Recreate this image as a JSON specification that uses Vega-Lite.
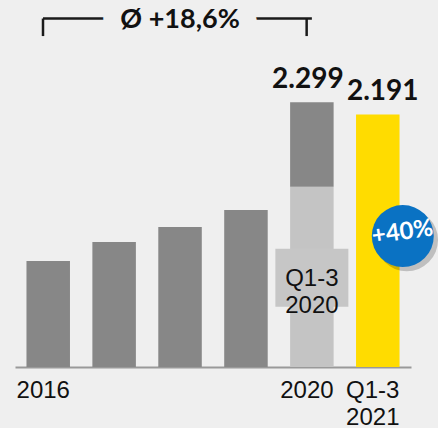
{
  "$schema": "https://vega.github.io/schema/vega-lite/v6.json",
  "width": 396,
  "height": 367,
  "autosize": {"type": "none"},
  "padding": {"left": 15, "top": 0, "right": 27, "bottom": 61},
  "background": "#efefef",
  "config": {"view": {"stroke": null}, "font": "Lato"},
  "datasets": {
    "bars": [
      {"cat": "2016", "part": "year", "value": 920},
      {"cat": "2017", "part": "year", "value": 1085},
      {"cat": "2018", "part": "year", "value": 1215},
      {"cat": "2019", "part": "year", "value": 1363},
      {"cat": "2020", "part": "Q1-3", "value": 1565},
      {"cat": "2020", "part": "Q4", "value": 734},
      {"cat": "Q1-3 2021", "part": "Q1-3 2021", "value": 2191}
    ],
    "bracket": [{"cat": "2016"}, {"cat": "2020"}]
  },
  "layer": [
    {
      "data": {"name": "bars"},
      "mark": {"type": "bar"},
      "encoding": {
        "x": {
          "field": "cat",
          "type": "nominal",
          "sort": null,
          "scale": {"domain": ["2016", "2017", "2018", "2019", "2020", "Q1-3 2021"], "paddingInner": 0.34, "paddingOuter": 0.174},
          "axis": {
            "title": null,
            "domainColor": "#999999",
            "domainWidth": 2,
            "ticks": false,
            "labelAngle": 0,
            "labelFont": "Liberation Sans",
            "labelFontSize": 24,
            "labelColor": "#111111",
            "labelBaseline": "top",
            "labelPadding": 11,
            "labelLineHeight": 27,
            "labelOffset": -5,
            "labelOverlap": false,
            "labelBound": false,
            "labelExpr": "datum.value == 'Q1-3 2021' ? ['Q1-3', '2021'] : (datum.value == '2016' || datum.value == '2020' ? datum.value : '')"
          }
        },
        "y": {"field": "value", "type": "quantitative", "stack": "zero", "scale": {"domain": [0, 3186], "nice": false}, "axis": null},
        "color": {
          "field": "part",
          "type": "nominal",
          "scale": {"domain": ["year", "Q1-3", "Q4", "Q1-3 2021"], "range": ["#878787", "#c4c4c4", "#878787", "#ffdc00"]},
          "legend": null
        },
        "order": {"field": "part", "sort": "ascending"}
      }
    },
    {
      "data": {"values": [{"cat": "2020", "label": "2.299", "total": 2299}]},
      "mark": {"type": "text", "font": "Lato", "fontWeight": "bold", "fontSize": 28, "color": "#111111", "baseline": "alphabetic", "dy": -14, "dx": -4},
      "encoding": {
        "x": {"field": "cat", "type": "nominal"},
        "y": {"field": "total", "type": "quantitative"},
        "text": {"field": "label"}
      }
    },
    {
      "data": {"values": [{"cat": "Q1-3 2021", "label": "2.191", "total": 2191}]},
      "mark": {"type": "text", "font": "Lato", "fontWeight": "bold", "fontSize": 28, "color": "#111111", "baseline": "alphabetic", "dy": -15, "dx": 5},
      "encoding": {
        "x": {"field": "cat", "type": "nominal"},
        "y": {"field": "total", "type": "quantitative"},
        "text": {"field": "label"}
      }
    },
    {
      "data": {"name": "bracket"},
      "mark": {"type": "rule", "color": "#1a1a1a", "strokeWidth": 2.5},
      "encoding": {
        "x": {"field": "cat", "type": "nominal", "bandPosition": 0.38},
        "y": {"datum": 3025},
        "y2": {"datum": 2873}
      }
    },
    {
      "data": {"values": [{}]},
      "mark": {"type": "rule", "color": "#1a1a1a", "strokeWidth": 2.5},
      "encoding": {
        "x": {"datum": "2016", "bandPosition": 0.38},
        "x2": {"datum": "2020"},
        "y": {"datum": 3025}
      }
    },
    {
      "data": {"values": [{}]},
      "mark": {"type": "text", "font": "Lato", "fontWeight": "bold", "fontSize": 27, "fill": "#efefef", "stroke": "#efefef", "strokeWidth": 36, "strokeJoin": "round", "baseline": "alphabetic", "dx": 0},
      "encoding": {
        "x": {"datum": "2018"},
        "y": {"datum": 2943},
        "text": {"value": "Ø +18,6%"}
      }
    },
    {
      "data": {"values": [{}]},
      "mark": {"type": "text", "font": "Lato", "fontWeight": "bold", "fontSize": 27, "color": "#111111", "baseline": "alphabetic", "dx": 0},
      "encoding": {
        "x": {"datum": "2018"},
        "y": {"datum": 2943},
        "text": {"value": "Ø +18,6%"}
      }
    },
    {
      "data": {"values": [{}]},
      "mark": {"type": "point", "shape": "M-1,-0.795H1V0.795H-1Z", "size": 5329, "filled": true, "color": "#c6c6c6", "opacity": 1},
      "encoding": {
        "x": {"datum": "2020"},
        "y": {"datum": 774}
      }
    },
    {
      "data": {"values": [{}]},
      "mark": {"type": "text", "font": "Liberation Sans", "fontSize": 24, "color": "#111111", "baseline": "middle", "lineHeight": 27, "dy": 1},
      "encoding": {
        "x": {"datum": "2020"},
        "y": {"datum": 774},
        "text": {"value": ["Q1-3", "2020"]}
      }
    },
    {
      "data": {"values": [{}]},
      "mark": {"type": "point", "shape": "circle", "size": 3900, "filled": true, "color": "#000000", "opacity": 0.2, "xOffset": 29, "yOffset": 4},
      "encoding": {
        "x": {"datum": "Q1-3 2021"},
        "y": {"datum": 1137}
      }
    },
    {
      "data": {"values": [{}]},
      "mark": {"type": "point", "shape": "circle", "size": 3844, "filled": true, "color": "#0a72c3", "opacity": 1, "xOffset": 25},
      "encoding": {
        "x": {"datum": "Q1-3 2021"},
        "y": {"datum": 1137}
      }
    },
    {
      "data": {"values": [{}]},
      "mark": {"type": "text", "font": "Lato", "fontWeight": "bold", "fontSize": 24, "color": "#ffffff", "baseline": "middle", "angle": -8, "dx": 25},
      "encoding": {
        "x": {"datum": "Q1-3 2021"},
        "y": {"datum": 1137},
        "text": {"value": "+40%"}
      }
    }
  ]
}
